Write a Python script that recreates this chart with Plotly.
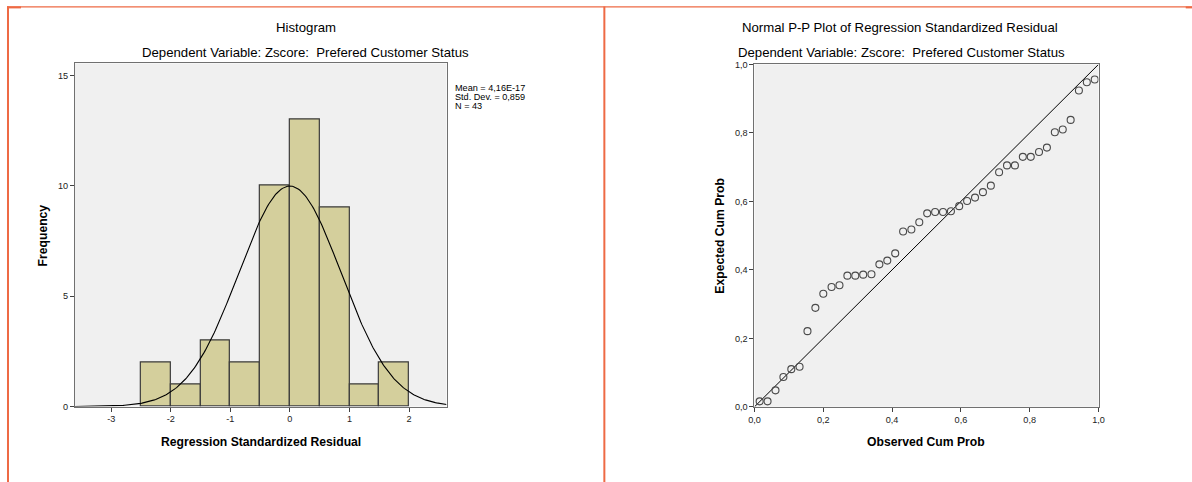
import numpy as np
import plotly.graph_objects as go

# ---------------- data ----------------
bin_centers = [-2.25, -1.75, -1.25, -0.75, -0.25, 0.25, 0.75, 1.25, 1.75]
bin_counts = [2, 1, 3, 2, 10, 13, 9, 1, 2]
bin_width = 0.5
res_mean = 4.16e-17
res_sd = 0.859
res_n = 43

hist_xticks = [-3, -2, -1, 0, 1, 2]
hist_xtick_labels = ["-3", "-2", "-1", "0", "1", "2"]
hist_yticks = [0, 5, 10, 15]

pp_observed = [0.015, 0.038, 0.061, 0.084, 0.107, 0.131, 0.154, 0.177, 0.200, 0.224,
               0.247, 0.270, 0.293, 0.316, 0.340, 0.363, 0.386, 0.409, 0.432, 0.456,
               0.479, 0.502, 0.525, 0.548, 0.571, 0.595, 0.618, 0.641, 0.664, 0.687,
               0.711, 0.734, 0.757, 0.780, 0.803, 0.827, 0.850, 0.873, 0.896, 0.919,
               0.943, 0.966, 0.989]
pp_expected = [0.016, 0.016, 0.048, 0.087, 0.110, 0.117, 0.221, 0.289, 0.330, 0.350,
               0.355, 0.383, 0.383, 0.386, 0.387, 0.416, 0.427, 0.448, 0.512, 0.518,
               0.539, 0.565, 0.569, 0.569, 0.571, 0.586, 0.601, 0.611, 0.627, 0.646,
               0.685, 0.705, 0.705, 0.730, 0.730, 0.744, 0.757, 0.802, 0.810, 0.838,
               0.924, 0.948, 0.956]
pp_ticks = [0.0, 0.2, 0.4, 0.6, 0.8, 1.0]

# ---------------- geometry helpers ----------------
W, H = 1192, 482
# the photographed page shows a small white border round the figure; compensate
AX, BX = 0.991, 5.0
AY, BY = 0.979, 4.6
FS = 1 / 0.985

def px(x):
    return ((x - BX) / AX) / W
def py(y):
    return 1 - ((y - BY) / AY) / H

FONT = "Liberation Sans, Arial, sans-serif"
ORANGE = "#EE6A45"
BAR_FILL = "#D4CF9C"
BAR_LINE = "#3a3a3a"
PLOT_BG = "#F0F0F0"
AXIS_COL = "#707070"

fig = go.Figure()

# histogram bars
fig.add_trace(go.Bar(
    x=bin_centers, y=bin_counts, width=bin_width,
    marker=dict(color=BAR_FILL, line=dict(color=BAR_LINE, width=1.2)),
    xaxis="x", yaxis="y", showlegend=False, hoverinfo="x+y"))

# fitted normal curve
xr = (-3.61, 2.63)
xc = np.linspace(xr[0], xr[1], 300)
yc = res_n * bin_width / (res_sd * np.sqrt(2 * np.pi)) * np.exp(-0.5 * ((xc - res_mean) / res_sd) ** 2)
fig.add_trace(go.Scatter(x=xc, y=yc, mode="lines", line=dict(color="black", width=1.1),
                         xaxis="x", yaxis="y", showlegend=False, hoverinfo="skip"))

# P-P diagonal
fig.add_trace(go.Scatter(x=[0, 1], y=[0, 1], mode="lines", line=dict(color="black", width=1),
                         xaxis="x2", yaxis="y2", showlegend=False, hoverinfo="skip"))
# P-P points
fig.add_trace(go.Scatter(x=pp_observed, y=pp_expected, mode="markers",
                         marker=dict(symbol="circle-open", size=7, color="#4a4a4a",
                                     line=dict(width=1.1, color="#4a4a4a")),
                         xaxis="x2", yaxis="y2", showlegend=False))

axis_common = dict(showgrid=False, zeroline=False, showline=True, mirror=True,
                   linecolor=AXIS_COL, linewidth=1, ticks="outside", ticklen=4,
                   tickcolor="#404040", tickfont=dict(family=FONT, size=9 * FS, color="#222"))

fig.update_layout(
    width=W, height=H, margin=dict(l=0, r=0, t=0, b=0),
    paper_bgcolor="white", plot_bgcolor=PLOT_BG,
    separators=",.", bargap=0,
    xaxis=dict(domain=[px(74), px(446)], range=list(xr), tickvals=hist_xticks,
               ticktext=hist_xtick_labels, anchor="y", **axis_common),
    yaxis=dict(domain=[py(406), py(63)], range=[0, 15.54], tickvals=hist_yticks,
               anchor="x", **axis_common),
    xaxis2=dict(domain=[px(754.3), px(1098.7)], range=[0, 1], tickvals=pp_ticks,
                tickformat=".1f", anchor="y2", **axis_common),
    yaxis2=dict(domain=[py(406.3), py(64)], range=[0, 1], tickvals=pp_ticks,
                tickformat=".1f", anchor="x2", **axis_common),
)

def text(x, y, s, size=13, bold=False, angle=0, xanchor="center", yanchor="middle"):
    if bold:
        s = "<b>" + s + "</b>"
    fig.add_annotation(x=px(x), y=py(y), xref="paper", yref="paper", text=s,
                       showarrow=False, textangle=angle, xanchor=xanchor, yanchor=yanchor,
                       font=dict(family=FONT, size=size * FS, color="black"))

sub = "Dependent Variable: Zscore: \u00a0Prefered Customer Status"
text(305, 27, "Histogram")
text(305, 52, sub)
text(260, 441, "Regression Standardized Residual", size=12, bold=True)
text(42, 235, "Frequency", size=12, bold=True, angle=-90)
text(452, 88, "Mean = 4,16E-17", size=9, xanchor="left")
text(452, 97, "Std. Dev. = 0,859", size=9, xanchor="left")
text(452, 106, "N = 43", size=9, xanchor="left")

text(900, 27, "Normal P-P Plot of Regression Standardized Residual")
text(901, 52, sub)
text(926, 441, "Observed Cum Prob", size=12, bold=True)
text(720, 235, "Expected Cum Prob", size=12, bold=True, angle=-90)

# orange frame lines
def line(x0, y0, x1, y1, w):
    fig.add_shape(type="line", xref="paper", yref="paper",
                  x0=px(x0), y0=py(y0), x1=px(x1), y1=py(y1),
                  line=dict(color=ORANGE, width=w))

line(6, 6.5, 1200, 6.5, 1.2)
line(7, 6, 7, 495, 2)
line(604, 6, 604, 495, 2)
line(6, 7, 20, 7, 2)
line(1186, 7, 1200, 7, 2)

fig.write_html(
    "out.html",
    config={"displayModeBar": False},
    post_script="document.body.style.margin='0';document.body.style.padding='0';"
                "document.documentElement.style.overflow='hidden';",
)
